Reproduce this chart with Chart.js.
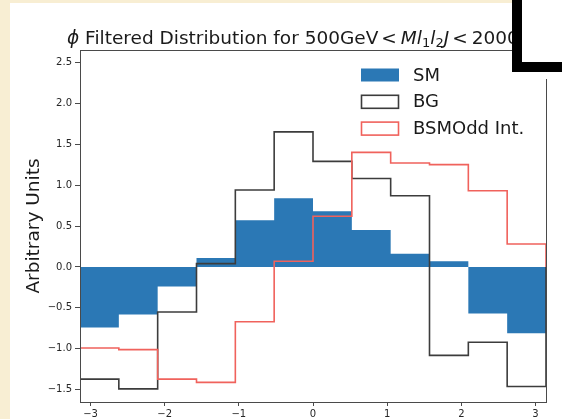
<!DOCTYPE html>
<html>
<head>
<meta charset="utf-8">
<script src="https://cdn.jsdelivr.net/npm/chart.js@4.4.1/dist/chart.umd.min.js"></script>
<style>
   html, body { margin: 0; padding: 0; }
   body { width: 562px; height: 419px; background: #f8eed3; position: relative; overflow: hidden; font-family: 'DejaVu Sans', sans-serif; }
   #panel { position: absolute; left: 10px; top: 3px; right: 0; bottom: 0; background: #ffffff; }
   #chart { position: absolute; left: 0; top: 0; }
   #title { position: absolute; left: 67px; top: 28px; font-size: 18.5px; line-height: 20px; color: #1a1a1a; white-space: nowrap; }
   #title sub { font-size: 13px; vertical-align: -3px; line-height: 0; }
   #title .rel { margin: 0 4px 0 3px; }
   #cover { position: absolute; left: 512px; top: -10px; width: 40px; height: 72px; background: #ffffff; border-left: 10px solid #000; border-bottom: 10px solid #000; }
   #cover2 { position: absolute; left: 512px; top: 72px; width: 50px; height: 7px; background: #ffffff; }
</style>
</head>
<body>
<div id="panel"></div>
<canvas id="chart" width="562" height="419"></canvas>
<div id="title"><i>ϕ</i> Filtered Distribution for 500GeV<span class="rel">&lt;</span><i>Ml</i><sub>1</sub><i>l</i><sub>2</sub><i>J</i><span class="rel">&lt;</span>2000GeV</div>
<div id="cover"></div>
<div id="cover2"></div>
<script>
// bin edges in phi (12 bins from -pi to pi)
const binEdges = [-3.1416, -2.618, -2.0944, -1.5708, -1.0472, -0.5236, 0, 0.5236, 1.0472, 1.5708, 2.0944, 2.618, 3.1416];

// histogram heights
const smValues  = [-0.74, -0.58, -0.24, 0.11, 0.57, 0.84, 0.68, 0.45, 0.16, 0.07, -0.57, -0.81];
const bgValues  = [-1.37, -1.49, -0.55, 0.04, 0.94, 1.65, 1.29, 1.08, 0.87, -1.08, -0.92, -1.46];
const bsmValues = [-0.99, -1.01, -1.37, -1.41, -0.67, 0.07, 0.62, 1.40, 1.27, 1.25, 0.93, 0.28];

const xTicks = [-3, -2, -1, 0, 1, 2, 3];
const yTicks = [-1.5, -1.0, -0.5, 0.0, 0.5, 1.0, 1.5, 2.0, 2.5];

const minus = (s) => s.replace('-', '\u2212');

// histogram outline: start at 0, step through every bin, come back to 0
function stepPoints(vals) {
   let pts = [{ x: binEdges[0], y: 0 }];
   vals.forEach((v, i) => pts.push({ x: binEdges[i], y: v }));
   pts.push({ x: binEdges[binEdges.length - 1], y: 0 });
   return pts;
}

let FramePlugin = {
   id: 'frame',
   afterDatasetsDraw: (chart) => {
      const ctx = chart.ctx;
      const a = chart.chartArea;
      ctx.save();
      ctx.strokeStyle = '#4a4a4a';
      ctx.lineWidth = 1;
      ctx.strokeRect(Math.round(a.left) + 0.5, Math.round(a.top) + 0.5, Math.round(a.right - a.left), Math.round(a.bottom - a.top));
      ctx.restore();
   },
   afterDraw: (chart) => {
      // legend, top right inside the axes, no frame
      const ctx = chart.ctx;
      const x0 = 361, y0 = 75, rowH = 26.8;
      ctx.save();
      ctx.font = "18px 'DejaVu Sans'";
      ctx.textBaseline = 'middle';
      chart.data.datasets.forEach((ds, i) => {
         const cy = y0 + i * rowH;
         if (ds.fill) {
            ctx.fillStyle = ds.backgroundColor;
            ctx.fillRect(x0, cy - 6.5, 38, 13);
         } else {
            ctx.strokeStyle = ds.borderColor;
            ctx.lineWidth = 1.6;
            ctx.strokeRect(x0 + 0.5, cy - 6.5, 37, 13);
         }
         ctx.fillStyle = '#1a1a1a';
         ctx.fillText(ds.label, 413, cy + 1);
      });
      ctx.restore();
   }
};

Chart.register(FramePlugin);

new Chart(document.getElementById('chart'), {
   type: 'line',
   data: {
      datasets: [{
         label: 'SM',
         data: stepPoints(smValues),
         stepped: 'before',
         fill: 'origin',
         backgroundColor: '#2b78b5',
         borderColor: '#2b78b5',
         borderWidth: 0,
         order: 3
      }, {
         label: 'BG',
         data: stepPoints(bgValues),
         stepped: 'before',
         fill: false,
         borderColor: '#3c3c3c',
         borderWidth: 1.6,
         order: 2
      }, {
         label: 'BSMOdd Int.',
         data: stepPoints(bsmValues),
         stepped: 'before',
         fill: false,
         borderColor: '#f0625c',
         borderWidth: 1.6,
         order: 1
      }]
   },
   options: {
      responsive: false,
      animation: false,
      events: [],
      elements: { point: { radius: 0 } },
      layout: { padding: { left: 10, top: 50, right: 16, bottom: 0 } },
      plugins: {
         legend: { display: false },
         tooltip: { enabled: false }
      },
      scales: {
         x: {
            type: 'linear',
            min: binEdges[0],
            max: binEdges[binEdges.length - 1],
            afterBuildTicks: (scale) => { scale.ticks = xTicks.map(v => ({ value: v })); },
            afterFit: (scale) => { scale.height = 17; },
            border: { display: true, color: '#4a4a4a', width: 1 },
            grid: { drawOnChartArea: false, drawTicks: true, tickLength: 4, color: '#4a4a4a' },
            ticks: {
               color: '#262626',
               font: { family: "'DejaVu Sans'", size: 10 },
               padding: 2,
               maxRotation: 0,
               autoSkip: false,
               callback: (v) => minus(String(v))
            }
         },
         y: {
            type: 'linear',
            min: -1.65,
            max: 2.65,
            afterBuildTicks: (scale) => { scale.ticks = yTicks.map(v => ({ value: v })); },
            afterFit: (scale) => { scale.width = 70; },
            border: { display: true, color: '#4a4a4a', width: 1 },
            grid: { drawOnChartArea: false, drawTicks: true, tickLength: 5, color: '#4a4a4a' },
            title: {
               display: true,
               text: 'Arbitrary Units',
               color: '#1a1a1a',
               font: { family: "'DejaVu Sans'", size: 18.5 },
               padding: { top: 13, bottom: 0 }
            },
            ticks: {
               color: '#262626',
               font: { family: "'DejaVu Sans'", size: 10 },
               padding: 3,
               autoSkip: false,
               callback: (v) => minus(v.toFixed(1))
            }
         }
      }
   }
});
</script>
</body>
</html>
